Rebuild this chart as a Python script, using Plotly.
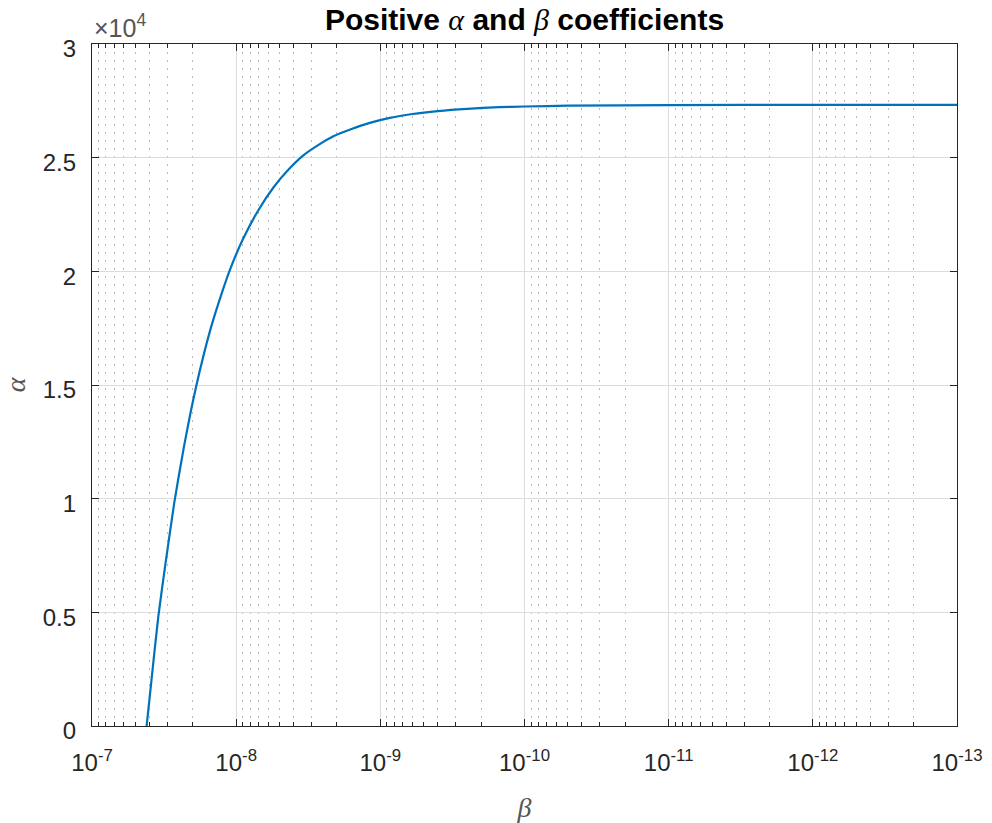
import plotly.graph_objects as go

# Data
beta_vals = [4.18e-8, 3.9e-8, 3.47e-8, 3.1e-8, 2.69e-8, 2.3e-8, 1.9e-8, 1.5e-8,
             1.25e-8, 1.1e-8, 9e-9, 7e-9, 5.5e-9, 4.3e-9, 3.42e-9, 2.7e-9, 2.1e-9,
             1.6e-9, 1.2e-9, 8.6e-10, 6e-10, 4e-10, 2.5e-10, 1.5e-10, 1e-10,
             5e-11, 1e-11, 1e-12, 1e-13]
alpha_vals = [0, 1800, 4800, 7100, 9800, 12300, 14900, 17500,
              19100, 20100, 21400, 22700, 23700, 24500, 25100, 25550, 25950,
              26250, 26520, 26750, 26920, 27050, 27150, 27220, 27250,
              27285, 27315, 27320, 27320]

x_tick_vals = [1e-7, 1e-8, 1e-9, 1e-10, 1e-11, 1e-12, 1e-13]
x_tick_text = ["10<sup>-7</sup>", "10<sup>-8</sup>", "10<sup>-9</sup>", "10<sup>-10</sup>",
               "10<sup>-11</sup>", "10<sup>-12</sup>", "10<sup>-13</sup>"]
x_minor_vals = [m * 10.0 ** e for e in range(-13, -7) for m in range(2, 10)]
y_tick_vals = [0, 5000, 10000, 15000, 20000, 25000, 30000]
y_tick_text = ["0", "0.5", "1", "1.5", "2", "2.5", "3"]

FONT = "Liberation Sans"
SERIF = "Liberation Serif"
DARK = "#262626"

fig = go.Figure()
fig.add_trace(go.Scatter(
    x=beta_vals, y=alpha_vals, mode="lines",
    line=dict(color="#0072BD", width=2.2, shape="spline", smoothing=0.6),
    showlegend=False, hoverinfo="skip"))

fig.update_layout(
    width=992, height=823,
    margin=dict(l=92, r=35, t=44, b=97, autoexpand=False),
    paper_bgcolor="white", plot_bgcolor="white",
    font=dict(family=FONT, color=DARK, size=24),
    title=dict(
        text=("<b>Positive <span style='font-family:Liberation Serif;font-weight:normal'><i>α</i></span>"
              " and <span style='font-family:Liberation Serif;font-weight:normal'><i>β</i></span> coefficients</b>"),
        x=0.5, xref="paper", xanchor="center",
        y=0.976, yref="container", yanchor="middle",
        font=dict(family=FONT, size=30, color="black")),
    xaxis=dict(
        type="log", range=[-7, -13], autorange=False, automargin=False,
        tickvals=x_tick_vals, ticktext=x_tick_text,
        ticks="inside", ticklen=7, tickwidth=1.3, tickcolor=DARK,
        showline=True, linecolor=DARK, linewidth=1.3, mirror="allticks",
        showgrid=True, gridcolor="#dcdcdc", gridwidth=1,
        zeroline=False,
        tickfont=dict(family=FONT, size=24, color=DARK),
        ticklabelstandoff=15,
        minor=dict(tickvals=x_minor_vals, ticks="inside", ticklen=4,
                   tickwidth=1.2, tickcolor=DARK, showgrid=True,
                   gridcolor="#b8b8b8", gridwidth=1, griddash="2px,6px"),
        title=dict(text="<i>β</i>", font=dict(family=SERIF, size=28, color="#555555"),
                   standoff=22),
    ),
    yaxis=dict(
        range=[0, 30000], autorange=False, automargin=False,
        tickvals=y_tick_vals, ticktext=y_tick_text,
        ticks="inside", ticklen=7, tickwidth=1.3, tickcolor=DARK,
        showline=True, linecolor=DARK, linewidth=1.3, mirror="allticks",
        showgrid=True, gridcolor="#dcdcdc", gridwidth=1,
        zeroline=False,
        tickfont=dict(family=FONT, size=24, color=DARK),
        ticklabelstandoff=10, ticklabelshift=5,
        title=dict(text="<i>α</i>", font=dict(family=SERIF, size=28, color="#555555"),
                   standoff=10),
    ),
    annotations=[dict(
        text="×10<sup>4</sup>", xref="paper", yref="paper", x=0, y=1,
        xanchor="left", yanchor="bottom", showarrow=False, yshift=0,
        font=dict(family=FONT, size=25, color="#555555"))],
)

fig.write_html("out.html")
